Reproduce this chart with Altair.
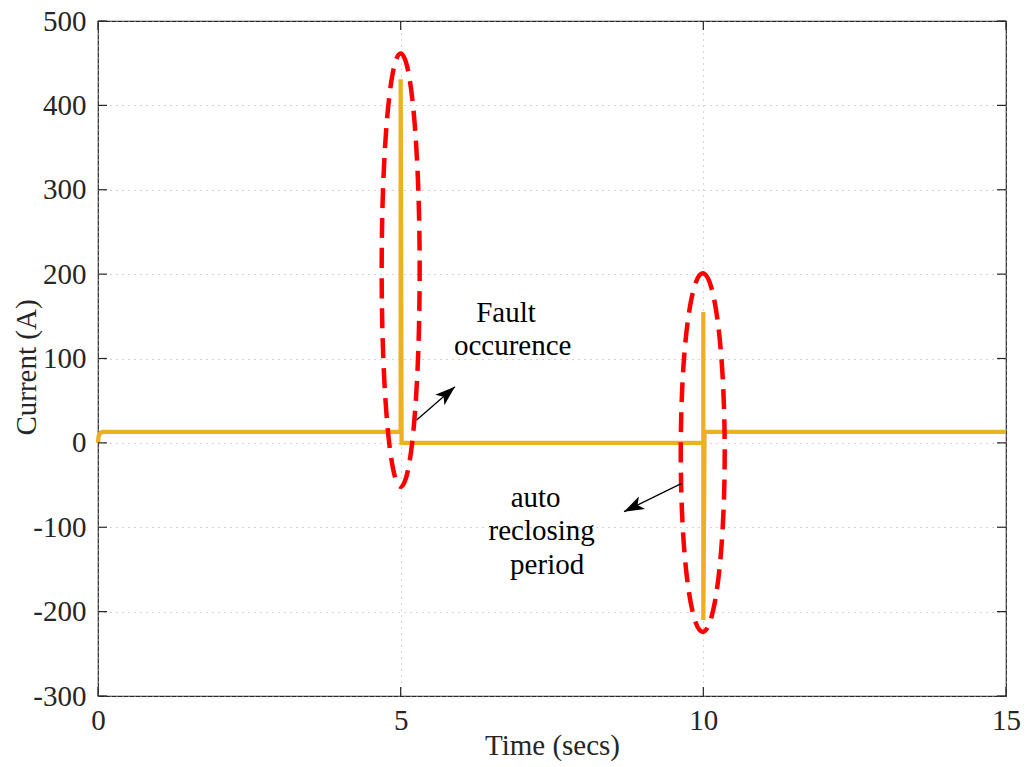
import math
import altair as alt
import pandas as pd

# ---------------- data ----------------
time = [0, 0.01, 0.04, 0.08, 5.0, 5.0, 5.015, 10.0, 10.0, 10.0, 10.02, 15]
current = [0, 8, 12, 13, 13, 431, 0, 0, 155, -210, 13, 13]

x_ticks = [0, 5, 10, 15]
y_ticks = [-300, -200, -100, 0, 100, 200, 300, 400, 500]

text_lines = ["Fault", "occurence", "auto", "reclosing", "period"]
text_t = [6.74, 6.85, 7.23, 7.33, 7.42]
text_v = [143, 104, -76, -115, -155]

arrow_tail_t = [5.264, 9.642]
arrow_tail_v = [27, -48]
arrow_tip_t = [5.896, 8.69]
arrow_tip_v = [66.4, -81.5]

ellipse_t = [5.0, 9.99]
ellipse_top = [461.5, 201]
ellipse_bottom = [-52, -224]
ellipse_halfwidth_t = [0.314, 0.363]

# ---------------- layout ----------------
W, H = 908, 675
X_DOM = [0, 15]
Y_DOM = [-300, 500]
PX_X = W / (X_DOM[1] - X_DOM[0])
PX_Y = H / (Y_DOM[1] - Y_DOM[0])
FONT = "Liberation Serif"
FS = 29
DARK = "#262626"
GRID = "#a8a8a8"

xscale = alt.Scale(domain=X_DOM, nice=False, zero=False)
yscale = alt.Scale(domain=Y_DOM, nice=False, zero=False)

xaxis = alt.Axis(
    values=x_ticks, title="Time (secs)", grid=True, gridColor=GRID,
    gridDash=[1, 5], gridWidth=1, ticks=False, domain=False,
    labelFont=FONT, labelFontSize=FS, labelColor=DARK, labelPadding=10,
    labelFlush=False, labelOverlap=False,
    titleFont=FONT, titleFontSize=FS, titleFontWeight="normal", titleColor=DARK,
    titleBaseline="alphabetic", titleY=58,
)
yaxis = alt.Axis(
    values=y_ticks, title="Current (A)", grid=True, gridColor=GRID,
    gridDash=[1, 5], gridWidth=1, ticks=False, domain=False,
    labelFont=FONT, labelFontSize=FS, labelColor=DARK, labelPadding=12,
    labelFlush=False, labelOverlap=False,
    labelExpr="replace(datum.label, '\u2212', '-')",
    titleFont=FONT, titleFontSize=FS, titleFontWeight="normal", titleColor=DARK,
    titleAngle=270, titleAlign="center", titleBaseline="middle",
    titleX=-72, titleY=346,
)


def X(field):
    return alt.X(field, type="quantitative", scale=xscale, axis=xaxis)


def Y(field):
    return alt.Y(field, type="quantitative", scale=yscale, axis=yaxis)


line_df = pd.DataFrame({"t": time, "v": current, "i": list(range(len(time)))})
line = alt.Chart(line_df).mark_line(color="#EDB120", strokeWidth=4.3).encode(
    x=X("t"), y=Y("v"), order=alt.Order("i:Q")
)

# inward ticks on all four sides
xt_df = pd.DataFrame({"t": x_ticks})
yt_df = pd.DataFrame({"v": y_ticks})
tick_style = dict(color=DARK, strokeWidth=1.2)
ticks_bottom = alt.Chart(xt_df).mark_rule(**tick_style).encode(
    x=X("t"), y=alt.value(H), y2=alt.value(H - 9))
ticks_top = alt.Chart(xt_df).mark_rule(**tick_style).encode(
    x=X("t"), y=alt.value(0), y2=alt.value(9))
ticks_left = alt.Chart(yt_df).mark_rule(**tick_style).encode(
    y=Y("v"), x=alt.value(0), x2=alt.value(9))
ticks_right = alt.Chart(yt_df).mark_rule(**tick_style).encode(
    y=Y("v"), x=alt.value(W), x2=alt.value(W - 9))


# dashed ellipses (custom symbol path, normalized to [-1, 1])
def ellipse_path(a):
    k = 0.5523
    return (f"M0,-1 C{a*k:.4f},-1 {a:.4f},{-k} {a:.4f},0 "
            f"C{a:.4f},{k} {a*k:.4f},1 0,1 "
            f"C{-a*k:.4f},1 {-a:.4f},{k} {-a:.4f},0 "
            f"C{-a:.4f},{-k} {-a*k:.4f},-1 0,-1 Z")


ellipses = []
for ct, top, bot, hw in zip(ellipse_t, ellipse_top, ellipse_bottom, ellipse_halfwidth_t):
    full_h = (top - bot) * PX_Y
    ratio = (hw * PX_X) / (full_h / 2)
    edf = pd.DataFrame({"t": [ct], "v": [(top + bot) / 2]})
    ellipses.append(
        alt.Chart(edf).mark_point(
            shape=ellipse_path(ratio), size=full_h ** 2, filled=False,
            stroke="#ff0000", strokeWidth=4.5, strokeDash=[20, 10], opacity=1,
        ).encode(x=X("t"), y=Y("v"))
    )

# arrows
angles = []
for t0, v0, t1, v1 in zip(arrow_tail_t, arrow_tail_v, arrow_tip_t, arrow_tip_v):
    dx = (t1 - t0) * PX_X
    dy = -(v1 - v0) * PX_Y
    angles.append(math.degrees(math.atan2(dx, -dy)) % 360)

arrow_df = pd.DataFrame({
    "t": arrow_tail_t, "v": arrow_tail_v,
    "t2": arrow_tip_t, "v2": arrow_tip_v,
    "tt": arrow_tip_t, "vv": arrow_tip_v, "ang": angles,
})
shafts = alt.Chart(arrow_df).mark_rule(color="black", strokeWidth=1.3).encode(
    x=X("t"), y=Y("v"), x2="t2:Q", y2="v2:Q")
heads = alt.Chart(arrow_df).mark_point(
    shape="M0,0 L0.7,2 L0,1.5 L-0.7,2 Z", size=400, filled=True,
    fill="black", strokeWidth=0, opacity=1,
).encode(
    x=alt.X("tt", type="quantitative", scale=xscale, axis=xaxis),
    y=alt.Y("vv", type="quantitative", scale=yscale, axis=yaxis),
    angle=alt.Angle("ang:Q", scale=None),
)

text_df = pd.DataFrame({"t": text_t, "v": text_v, "label": text_lines})
texts = alt.Chart(text_df).mark_text(
    font=FONT, fontSize=FS, color="black", align="center", baseline="alphabetic"
).encode(x=X("t"), y=Y("v"), text="label:N")

chart = alt.layer(
    line, ticks_bottom, ticks_top, ticks_left, ticks_right,
    *ellipses, shafts, heads, texts,
).properties(
    width=W, height=H,
    autosize=alt.AutoSizeParams(type="none"),
    padding={"left": 98, "top": 21, "right": 21, "bottom": 71},
    background="white",
).configure_view(stroke=DARK, strokeWidth=1.2)

chart.save("out.html", embed_options={"renderer": "svg", "actions": False})
